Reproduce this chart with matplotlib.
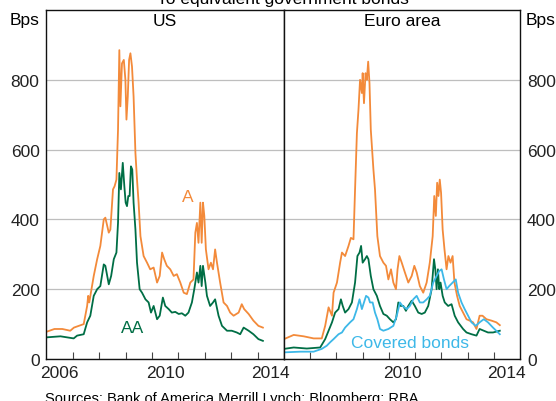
import matplotlib
matplotlib.use("Agg")
import matplotlib.pyplot as plt

plt.rcParams['font.family'] = ['Liberation Sans', 'DejaVu Sans']

ORANGE = "#F38A3A"
GREEN = "#006E45"
BLUE = "#3DB8E8"

# Spreads in bps as (year, value)
us_a = [(2006.00, 78), (2006.30, 86), (2006.60, 86), (2006.90, 81), (2007.04, 90), (2007.41, 100),
        (2007.54, 152), (2007.58, 181), (2007.62, 162), (2007.79, 238), (2007.92, 286), (2008.04, 324),
        (2008.17, 400), (2008.23, 405), (2008.36, 362), (2008.42, 371), (2008.52, 486), (2008.58, 495),
        (2008.65, 514), (2008.71, 657), (2008.76, 885), (2008.80, 724), (2008.86, 847), (2008.93, 857),
        (2008.99, 800), (2009.03, 686), (2009.08, 752), (2009.13, 857), (2009.18, 876), (2009.24, 838),
        (2009.30, 752), (2009.37, 590), (2009.43, 514), (2009.49, 448), (2009.56, 352), (2009.68, 295),
        (2009.81, 276), (2009.93, 257), (2010.06, 262), (2010.19, 219), (2010.29, 238), (2010.38, 305),
        (2010.46, 286), (2010.56, 267), (2010.69, 257), (2010.82, 238), (2010.94, 243), (2011.07, 219),
        (2011.20, 190), (2011.32, 186), (2011.45, 219), (2011.57, 228), (2011.64, 362), (2011.70, 390),
        (2011.76, 333), (2011.83, 448), (2011.88, 333), (2011.93, 448), (2011.98, 410), (2012.04, 314),
        (2012.14, 257), (2012.23, 276), (2012.31, 257), (2012.39, 314), (2012.46, 276), (2012.58, 219),
        (2012.71, 162), (2012.84, 152), (2012.96, 133), (2013.09, 124), (2013.28, 133), (2013.40, 157),
        (2013.49, 143), (2013.66, 129), (2013.84, 110), (2014.03, 95), (2014.20, 90)]

us_aa = [(2006.00, 62), (2006.53, 65), (2007.03, 59), (2007.16, 67), (2007.41, 71), (2007.54, 105),
         (2007.66, 124), (2007.79, 181), (2007.92, 200), (2008.04, 209), (2008.17, 271), (2008.23, 267),
         (2008.36, 214), (2008.45, 238), (2008.55, 286), (2008.65, 305), (2008.71, 390), (2008.76, 533),
         (2008.82, 486), (2008.89, 562), (2008.95, 495), (2009.00, 448), (2009.05, 438), (2009.10, 467),
         (2009.15, 467), (2009.20, 552), (2009.25, 543), (2009.30, 448), (2009.37, 371), (2009.43, 276),
         (2009.53, 200), (2009.62, 190), (2009.75, 171), (2009.87, 162), (2009.96, 133), (2010.06, 152),
         (2010.19, 114), (2010.29, 124), (2010.41, 176), (2010.50, 152), (2010.63, 143), (2010.75, 133),
         (2010.88, 135), (2011.01, 129), (2011.13, 131), (2011.26, 124), (2011.38, 133), (2011.51, 162),
         (2011.60, 200), (2011.70, 248), (2011.76, 219), (2011.83, 267), (2011.88, 209), (2011.93, 267),
         (2012.02, 219), (2012.08, 181), (2012.20, 152), (2012.31, 162), (2012.39, 171), (2012.52, 124),
         (2012.65, 95), (2012.84, 81), (2013.02, 81), (2013.21, 76), (2013.34, 71), (2013.47, 90),
         (2013.66, 81), (2013.84, 71), (2014.03, 57), (2014.20, 52)]

euro_a = [(2006.00, 57), (2006.37, 69), (2006.75, 65), (2007.13, 59), (2007.44, 59), (2007.57, 95),
          (2007.70, 148), (2007.83, 124), (2007.89, 190), (2008.02, 219), (2008.14, 276), (2008.21, 305),
          (2008.33, 295), (2008.46, 324), (2008.55, 347), (2008.65, 343), (2008.71, 486), (2008.78, 647),
          (2008.84, 714), (2008.90, 800), (2008.97, 762), (2009.00, 819), (2009.05, 733), (2009.11, 819),
          (2009.16, 800), (2009.21, 852), (2009.26, 790), (2009.31, 657), (2009.41, 543), (2009.47, 486),
          (2009.56, 352), (2009.66, 295), (2009.79, 276), (2009.89, 267), (2009.98, 228), (2010.08, 257),
          (2010.17, 219), (2010.27, 200), (2010.33, 257), (2010.40, 295), (2010.49, 276), (2010.61, 248),
          (2010.74, 219), (2010.87, 238), (2010.97, 267), (2011.06, 248), (2011.18, 209), (2011.31, 190),
          (2011.44, 219), (2011.56, 276), (2011.67, 352), (2011.73, 467), (2011.79, 410), (2011.84, 505),
          (2011.89, 467), (2011.94, 514), (2011.99, 476), (2012.05, 371), (2012.12, 314), (2012.20, 257),
          (2012.27, 295), (2012.35, 276), (2012.43, 295), (2012.50, 219), (2012.60, 181), (2012.70, 152),
          (2012.83, 133), (2012.96, 114), (2013.08, 110), (2013.21, 105), (2013.34, 86), (2013.46, 124),
          (2013.57, 124), (2013.72, 114), (2013.91, 110), (2014.10, 105), (2014.23, 97)]

euro_aa = [(2006.00, 29), (2006.37, 33), (2006.87, 30), (2007.38, 33), (2007.57, 57), (2007.70, 81),
           (2007.83, 105), (2007.95, 133), (2008.08, 143), (2008.17, 171), (2008.24, 152), (2008.33, 133),
           (2008.46, 143), (2008.59, 162), (2008.71, 219), (2008.80, 295), (2008.88, 305), (2008.94, 324),
           (2009.00, 276), (2009.09, 286), (2009.16, 295), (2009.22, 286), (2009.31, 238), (2009.41, 200),
           (2009.54, 181), (2009.66, 152), (2009.79, 129), (2009.92, 124), (2010.04, 114), (2010.17, 105),
           (2010.27, 114), (2010.36, 162), (2010.45, 152), (2010.55, 152), (2010.65, 138), (2010.74, 152),
           (2010.87, 167), (2010.99, 152), (2011.12, 133), (2011.25, 129), (2011.37, 133), (2011.50, 152),
           (2011.63, 200), (2011.72, 286), (2011.77, 257), (2011.82, 200), (2011.87, 257), (2011.92, 200),
           (2011.97, 219), (2012.05, 181), (2012.13, 162), (2012.26, 152), (2012.39, 157), (2012.51, 124),
           (2012.64, 105), (2012.83, 86), (2012.96, 76), (2013.15, 71), (2013.34, 67), (2013.46, 86),
           (2013.62, 81), (2013.78, 76), (2013.97, 76), (2014.23, 81)]

euro_covered = [(2006.00, 19), (2006.62, 21), (2007.13, 21), (2007.44, 29), (2007.63, 38), (2007.76, 48),
                (2007.89, 57), (2008.08, 71), (2008.21, 76), (2008.33, 90), (2008.52, 105), (2008.65, 114),
                (2008.78, 143), (2008.88, 171), (2008.97, 143), (2009.05, 162), (2009.13, 181), (2009.22, 176),
                (2009.28, 162), (2009.38, 162), (2009.47, 133), (2009.56, 114), (2009.66, 86), (2009.79, 81),
                (2009.98, 86), (2010.17, 95), (2010.30, 124), (2010.42, 162), (2010.52, 152), (2010.68, 143),
                (2010.80, 152), (2010.93, 171), (2011.06, 181), (2011.18, 162), (2011.31, 162), (2011.44, 171),
                (2011.56, 181), (2011.69, 219), (2011.82, 238), (2011.92, 252), (2012.01, 257), (2012.10, 228),
                (2012.20, 200), (2012.30, 209), (2012.43, 219), (2012.55, 228), (2012.64, 190), (2012.77, 162),
                (2012.89, 143), (2013.02, 124), (2013.15, 105), (2013.31, 95), (2013.46, 105), (2013.62, 114),
                (2013.78, 105), (2013.97, 90), (2014.23, 71)]

y_ticks = [0, 200, 400, 600, 800]
us_year_labels = ["2006", "2010", "2014"]
euro_year_labels = ["2010", "2014"]
panel_titles = ["US", "Euro area"]

FS = 12.5


def draw_series(ax, pts, color):
    xs = [p[0] for p in pts]
    ys = [p[1] for p in pts]
    ax.plot(xs, ys, color=color, lw=1.3, solid_joinstyle='round')


def style_panel(ax, title, year_labels):
    ax.set_xlim(2006, 2015)
    ax.set_ylim(0, 1000)
    ax.set_yticks(y_ticks)
    ax.grid(axis='y', color='#BEBEBE', lw=0.9)
    ax.set_axisbelow(True)
    # year boundaries as inward ticks, labels in the middle of the year
    ax.set_xticks(range(2007, 2015))
    ax.set_xticklabels([])
    ax.set_xticks([int(y) + 0.5 for y in year_labels], minor=True)
    ax.set_xticklabels(year_labels, minor=True, fontsize=FS, color='#222222')
    ax.tick_params(axis='x', which='major', direction='in', length=4.8, width=0.8, color='#444444')
    ax.tick_params(axis='x', which='minor', length=0, pad=4)
    ax.tick_params(axis='y', length=0, labelsize=FS, labelcolor='#222222', pad=5)
    for s in ax.spines.values():
        s.set_linewidth(1.0)
        s.set_color('#111111')
    ax.text(0.5, 0.97, title, transform=ax.transAxes, ha='center', va='center', fontsize=FS)


fig = plt.figure(figsize=(5.56, 4.02), dpi=100)
ax1 = fig.add_axes([46.5 / 556, 1 - 360 / 402, 237.5 / 556, 349 / 402])
ax2 = fig.add_axes([284 / 556, 1 - 360 / 402, 236 / 556, 349 / 402])

draw_series(ax1, us_a, ORANGE)
draw_series(ax1, us_aa, GREEN)
style_panel(ax1, panel_titles[0], us_year_labels)
ax1.text(2011.34, 466, "A", color=ORANGE, fontsize=FS, ha='center', va='center')
ax1.text(2009.26, 89, "AA", color=GREEN, fontsize=FS, ha='center', va='center')

draw_series(ax2, euro_a, ORANGE)
draw_series(ax2, euro_aa, GREEN)
draw_series(ax2, euro_covered, BLUE)
style_panel(ax2, panel_titles[1], euro_year_labels)
ax2.yaxis.tick_right()
ax2.text(2010.8, 46, "Covered bonds", color=BLUE, fontsize=FS, ha='center', va='center')

fig.text(25 / 556, 1 - 20 / 402, "Bps", fontsize=FS, ha='center', va='center')
fig.text(541 / 556, 1 - 20 / 402, "Bps", fontsize=FS, ha='center', va='center')
fig.text(283 / 556, 1 - 4 / 402, "To equivalent government bonds", fontsize=FS,
         ha='center', va='baseline')
fig.text(45 / 556, -1 / 402, "Sources: Bank of America Merrill Lynch; Bloomberg; RBA",
         fontsize=10.5, ha='left', va='baseline')

fig.savefig("out.png", dpi=100)
